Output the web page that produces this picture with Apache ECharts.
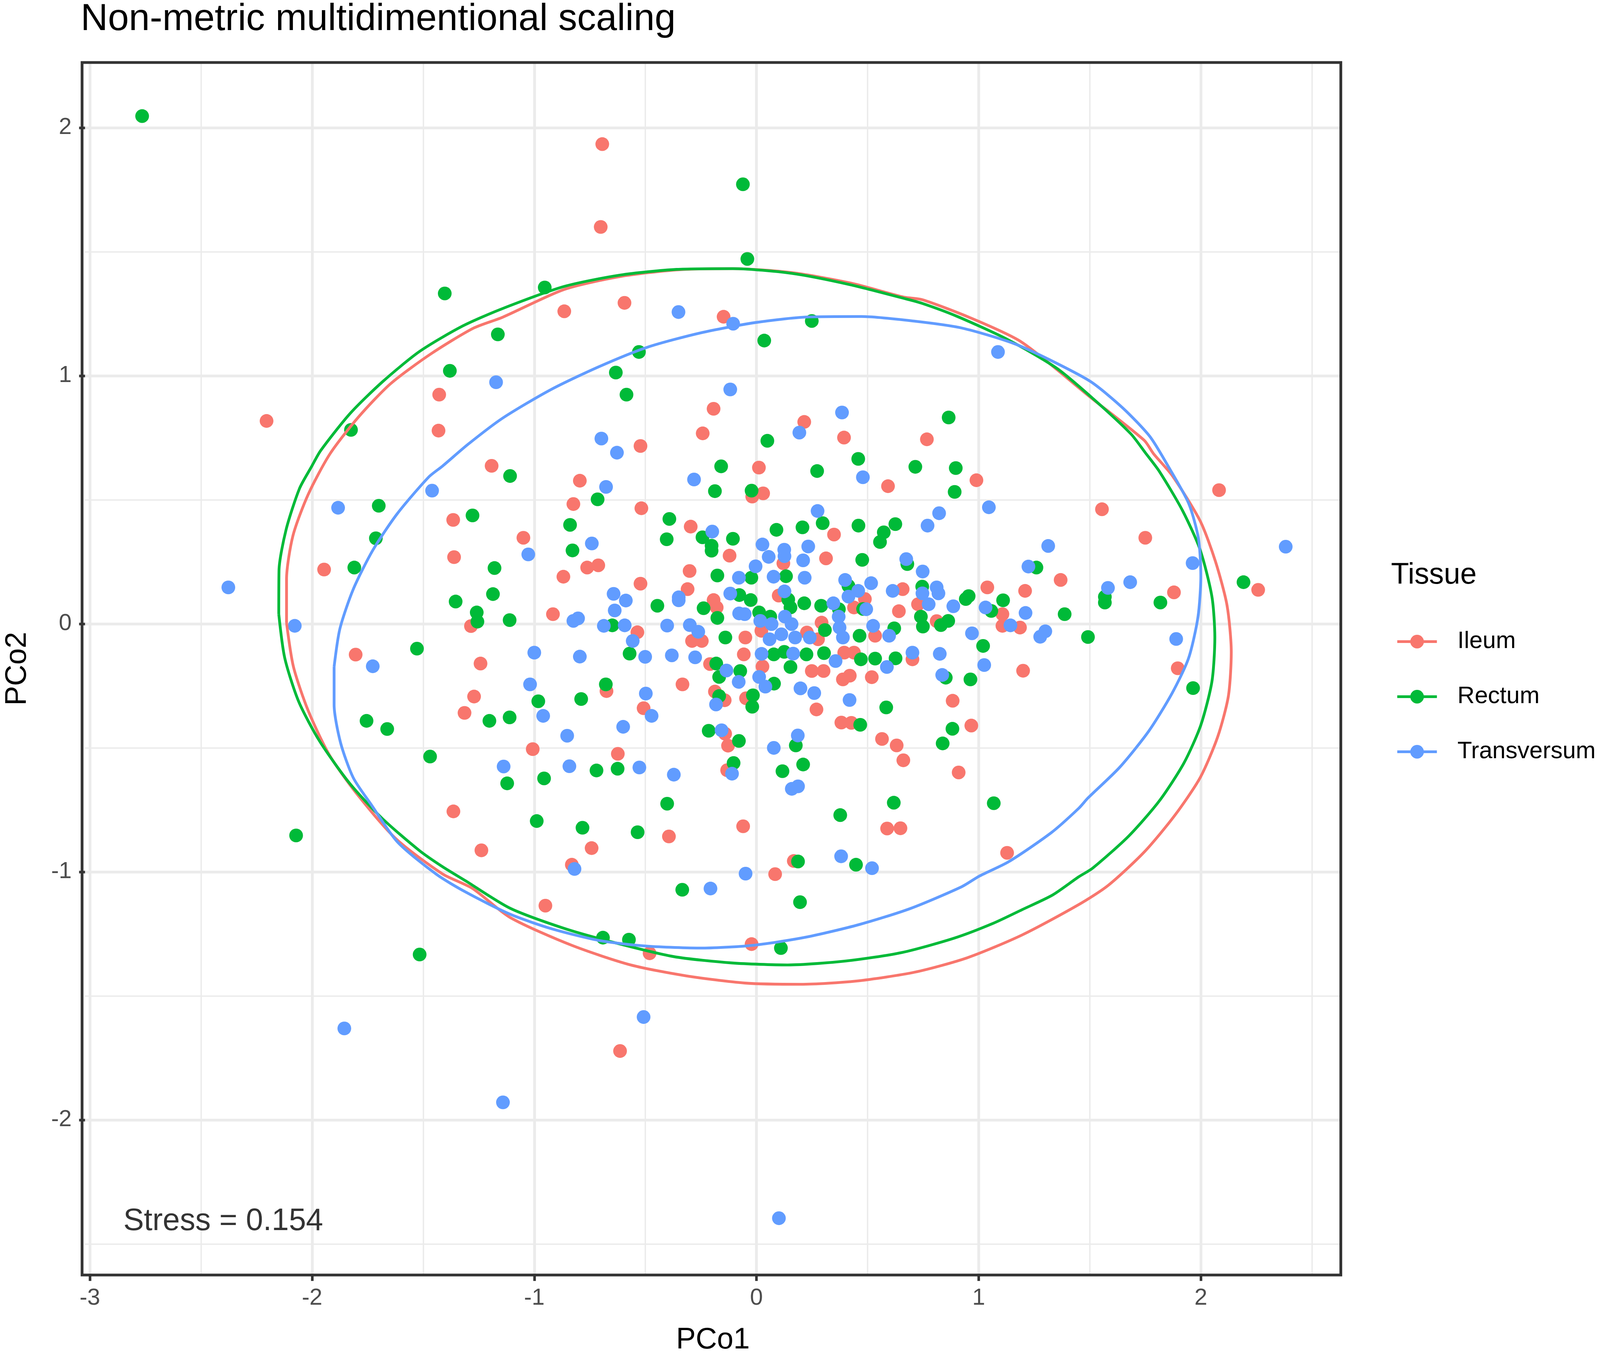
<!DOCTYPE html>
<html lang="en">
<head>
    <meta charset="UTF-8">
    <script type="text/javascript" src="https://cdn.jsdelivr.net/npm/echarts@6.0.0/dist/echarts.min.js"></script>
    <style>
        html, body {
            margin: 0;
            width: 100%;
            height: 100%;
            overflow: hidden;
            background: #fff;
        }
        #viewport {
            position: absolute;
            left: 0px;
            top: 0px;
            right: 0px;
            bottom: 0px;
        }
    </style>
</head>
<body>
<div id="viewport"></div>
<script>
    // NMDS coordinates, one array per tissue
    var ileum = [
        [-2.205, 0.818], [-0.694, 1.934], [-0.701, 1.600], [-0.865, 1.260], [-0.594, 1.294], [-0.148, 1.238],
        [-1.428, 0.924], [-1.431, 0.779], [-0.522, 0.717], [-1.192, 0.637], [-0.795, 0.577], [-0.824, 0.483],
        [-0.518, 0.466], [-1.365, 0.419], [-1.049, 0.347], [-1.361, 0.269], [-0.762, 0.227], [-0.712, 0.236],
        [-0.869, 0.190], [-0.522, 0.162], [-1.285, -0.009], [-0.916, 0.039], [-0.536, -0.034],
        [-0.193, 0.867], [-0.242, 0.768], [-0.019, 0.513], [0.030, 0.526], [0.011, 0.630], [0.215, 0.814],
        [0.394, 0.751], [-0.296, 0.392], [-0.121, 0.275], [0.349, 0.360], [0.121, 0.244], [0.313, 0.264],
        [-0.301, 0.213], [-0.310, 0.140], [-0.193, 0.096], [-0.179, 0.066], [0.100, 0.114], [0.293, 0.005],
        [-0.290, -0.069], [-0.246, -0.069], [-0.050, -0.055], [0.022, -0.028], [0.227, -0.035], [0.277, -0.062],
        [0.439, 0.066],
        [0.767, 0.744], [0.592, 0.555], [0.990, 0.579], [1.369, 0.177], [0.658, 0.140], [0.727, 0.079],
        [0.641, 0.051], [1.039, 0.147], [1.209, 0.133], [1.107, 0.039], [1.107, -0.008], [1.186, -0.015],
        [0.488, 0.100], [0.534, -0.048], [0.811, 0.011],
        [-1.242, -0.160], [-1.271, -0.293], [-1.314, -0.359], [-0.675, -0.271], [-0.508, -0.340], [-1.007, -0.505],
        [-0.624, -0.524], [-1.364, -0.756], [-1.238, -0.913], [-0.742, -0.904], [-0.831, -0.971], [-0.950, -1.136],
        [-0.057, -0.123], [-0.209, -0.162], [-0.333, -0.244], [-0.187, -0.273], [-0.143, -0.308], [-0.047, -0.300],
        [0.027, -0.172], [0.249, -0.190], [0.302, -0.190], [0.395, -0.116], [0.439, -0.116], [0.389, -0.224],
        [0.420, -0.209], [0.270, -0.345], [0.382, -0.398], [0.427, -0.399], [-0.141, -0.443], [-0.128, -0.491],
        [-0.132, -0.590], [-0.060, -0.816], [-0.394, -0.857], [0.168, -0.956], [0.084, -1.009],
        [0.702, -0.143], [0.519, -0.215], [1.200, -0.189], [0.883, -0.310], [0.967, -0.410], [0.565, -0.464],
        [0.631, -0.490], [0.661, -0.550], [0.910, -0.599], [0.588, -0.825], [0.648, -0.824], [1.128, -0.923],
        [-1.946, 0.219], [-1.804, -0.124], [-0.481, -1.328], [-0.614, -1.722], [-0.022, -1.291],
        [1.555, 0.462], [1.750, 0.347], [1.879, 0.127], [2.082, 0.539], [2.258, 0.137], [1.896, -0.179]
    ];

    var rectum = [
        [-2.765, 2.047], [-1.403, 1.332], [-1.164, 1.167], [-1.380, 1.020], [-1.825, 0.782],
        [-0.061, 1.772], [-0.041, 1.471], [-0.953, 1.356], [0.035, 1.142], [0.249, 1.221], [-0.529, 1.096],
        [-0.633, 1.013], [-0.585, 0.924],
        [-1.109, 0.596], [-0.715, 0.502], [-1.278, 0.437], [-0.839, 0.399], [-0.828, 0.296], [-1.179, 0.225],
        [-1.354, 0.090], [-1.186, 0.120], [-1.259, 0.046], [-1.256, 0.009], [-1.111, 0.015], [-0.649, -0.006],
        [-0.159, 0.635], [-0.187, 0.535], [-0.022, 0.537], [0.049, 0.738], [0.458, 0.665], [0.273, 0.616],
        [-0.392, 0.423], [-0.404, 0.341], [-0.243, 0.349], [-0.202, 0.315], [-0.202, 0.295], [-0.106, 0.343],
        [0.090, 0.379], [0.207, 0.389], [0.298, 0.406], [0.459, 0.396], [0.476, 0.258], [-0.176, 0.195],
        [-0.023, 0.186], [0.133, 0.192], [-0.077, 0.116], [-0.026, 0.096], [0.143, 0.098], [0.153, 0.066],
        [0.215, 0.083], [0.291, 0.073], [0.414, 0.153], [0.371, 0.059], [-0.446, 0.073], [-0.238, 0.063],
        [-0.176, 0.024], [0.012, 0.046], [0.062, 0.029], [0.308, -0.025], [-0.140, -0.055], [0.464, -0.048],
        [0.480, 0.060],
        [0.865, 0.832], [0.715, 0.633], [0.897, 0.628], [0.892, 0.532], [0.625, 0.402], [0.573, 0.369],
        [0.556, 0.330], [0.679, 0.241], [0.746, 0.150], [0.942, 0.100], [0.955, 0.112], [1.260, 0.227],
        [1.110, 0.095], [1.057, 0.052], [1.387, 0.039], [1.020, -0.089], [0.620, -0.018], [0.740, 0.029],
        [0.749, -0.011], [0.830, -0.005], [0.863, 0.012],
        [-0.571, -0.120], [-1.202, -0.391], [-1.111, -0.377], [-0.982, -0.312], [-0.789, -0.303], [-0.678, -0.244],
        [-1.469, -0.535], [-1.122, -0.643], [-0.956, -0.623], [-0.720, -0.591], [-0.625, -0.584], [-0.989, -0.795],
        [-0.783, -0.822], [-0.535, -0.840],
        [-0.181, -0.160], [-0.168, -0.214], [-0.073, -0.190], [-0.168, -0.291], [-0.016, -0.288], [-0.019, -0.334],
        [0.078, -0.123], [0.125, -0.113], [0.225, -0.123], [0.304, -0.118], [0.079, -0.241], [0.153, -0.174],
        [0.470, -0.143], [0.467, -0.407], [-0.215, -0.431], [-0.079, -0.472], [0.177, -0.490], [-0.103, -0.561],
        [0.117, -0.594], [0.210, -0.567], [-0.402, -0.725], [0.377, -0.771], [0.448, -0.971], [0.187, -0.958],
        [-0.334, -1.072], [0.196, -1.122],
        [0.534, -0.140], [0.626, -0.139], [0.852, -0.217], [0.963, -0.224], [0.584, -0.337], [0.882, -0.423],
        [0.838, -0.482], [0.618, -0.721], [1.068, -0.723],
        [-1.700, 0.476], [-1.713, 0.345], [-1.810, 0.227], [-1.755, -0.391], [-1.662, -0.424], [-1.528, -0.100],
        [-2.072, -0.853], [-1.516, -1.333], [-0.691, -1.265], [-0.574, -1.273], [0.110, -1.307],
        [1.568, 0.109], [1.568, 0.086], [1.492, -0.053], [1.818, 0.086], [2.192, 0.168], [1.965, -0.259]
    ];

    var transversum = [
        [-1.172, 0.974], [-0.351, 1.257], [-0.105, 1.210], [-0.118, 0.945], [1.087, 1.096],
        [-0.698, 0.747], [-0.628, 0.690], [-1.460, 0.537], [-0.677, 0.552], [-1.027, 0.280], [-0.741, 0.324],
        [-0.824, 0.012], [-0.803, 0.022], [-0.643, 0.121], [-0.588, 0.094], [-0.638, 0.054], [-0.687, -0.008],
        [-0.593, -0.006], [-0.557, -0.069],
        [-0.281, 0.582], [0.193, 0.771], [0.385, 0.852], [0.479, 0.591], [-0.199, 0.372], [0.275, 0.455],
        [0.027, 0.320], [0.055, 0.270], [0.125, 0.299], [0.126, 0.273], [0.233, 0.312], [0.210, 0.256],
        [-0.004, 0.232], [-0.079, 0.186], [0.077, 0.190], [0.217, 0.186], [-0.350, 0.095], [-0.350, 0.107],
        [-0.118, 0.122], [0.126, 0.131], [0.399, 0.177], [0.414, 0.110], [0.458, 0.133], [0.346, 0.083],
        [-0.078, 0.042], [-0.053, 0.039], [0.017, 0.012], [0.068, -0.001], [0.128, 0.029], [0.158, -0.001],
        [0.370, 0.029], [0.374, -0.015], [-0.402, -0.007], [-0.300, -0.005], [-0.262, -0.032], [0.059, -0.062],
        [0.112, -0.042], [0.174, -0.055], [0.240, -0.055], [0.389, -0.055],
        [1.046, 0.470], [0.822, 0.446], [0.770, 0.396], [0.674, 0.261], [0.748, 0.211], [1.313, 0.314],
        [1.224, 0.231], [0.516, 0.164], [0.613, 0.133], [0.747, 0.123], [0.811, 0.147], [0.819, 0.123],
        [0.775, 0.079], [0.886, 0.071], [1.031, 0.066], [1.143, -0.006], [1.211, 0.044], [1.277, -0.052],
        [1.300, -0.030], [0.970, -0.038], [0.494, 0.059], [0.525, -0.008], [0.597, -0.048],
        [-1.000, -0.116], [-0.795, -0.132], [-0.501, -0.133], [-1.019, -0.244], [-0.960, -0.371], [-0.498, -0.281],
        [-0.600, -0.415], [-0.852, -0.451], [-1.138, -0.575], [-0.842, -0.574], [-0.527, -0.579], [-0.819, -0.988],
        [-0.381, -0.127], [-0.276, -0.135], [-0.135, -0.188], [-0.080, -0.234], [-0.472, -0.371], [-0.182, -0.325],
        [0.023, -0.121], [0.165, -0.120], [0.012, -0.214], [0.040, -0.253], [0.356, -0.150], [0.198, -0.260],
        [0.260, -0.279], [0.419, -0.307], [-0.157, -0.429], [0.078, -0.500], [0.186, -0.450], [-0.110, -0.604],
        [0.159, -0.665], [0.187, -0.655], [-0.372, -0.608], [0.381, -0.937], [-0.049, -1.007], [-0.207, -1.067],
        [0.702, -0.116], [0.587, -0.174], [0.825, -0.121], [0.836, -0.206], [1.025, -0.166], [0.520, -0.985],
        [-1.883, 0.468], [-2.377, 0.147], [-2.078, -0.008], [-1.727, -0.171], [-1.855, -1.631], [-0.508, -1.585],
        [-1.141, -1.929], [0.101, -2.396], [1.682, 0.168], [1.582, 0.145], [1.963, 0.245], [2.382, 0.311],
        [1.889, -0.061]
    ];

    // stat_ellipse outlines
    var ileumEllipse = [
        [-2.115, 0.004], [-2.115, 0.180], [-2.086, 0.356], [-2.018, 0.521], [-1.919, 0.686], [-1.791, 0.834],
        [-1.647, 0.968], [-1.466, 1.088], [-1.274, 1.192], [-1.143, 1.236], [-0.866, 1.348], [-0.614, 1.400],
        [-0.360, 1.427], [-0.107, 1.432], [0.158, 1.416], [0.423, 1.374], [0.664, 1.317], [0.746, 1.307],
        [0.962, 1.234], [1.193, 1.136], [1.505, 0.912], [1.745, 0.740], [1.787, 0.686], [1.871, 0.598],
        [1.997, 0.415], [2.066, 0.251], [2.118, 0.074], [2.137, -0.114], [2.124, -0.291], [2.076, -0.455],
        [1.997, -0.620], [1.882, -0.773], [1.745, -0.920], [1.582, -1.055], [1.450, -1.132], [1.196, -1.254],
        [0.949, -1.346], [0.713, -1.404], [0.449, -1.440], [0.199, -1.453], [-0.051, -1.448], [-0.316, -1.419],
        [-0.566, -1.375], [-0.831, -1.296], [-1.110, -1.183], [-1.279, -1.066], [-1.413, -1.008], [-1.622, -0.867],
        [-1.804, -0.679], [-1.924, -0.526], [-2.018, -0.349], [-2.084, -0.173], [-2.115, 0.004]
    ];
    var rectumEllipse = [
        [-2.150, 0.039], [-2.149, 0.215], [-2.117, 0.380], [-2.057, 0.545], [-2.003, 0.633], [-1.961, 0.699],
        [-1.828, 0.849], [-1.683, 0.976], [-1.515, 1.099], [-1.322, 1.201], [-1.143, 1.271], [-0.866, 1.360],
        [-0.614, 1.406], [-0.360, 1.429], [-0.107, 1.432], [0.158, 1.413], [0.423, 1.367], [0.664, 1.312],
        [0.746, 1.292], [0.902, 1.240], [1.131, 1.146], [1.349, 1.032], [1.516, 0.907], [1.685, 0.766],
        [1.750, 0.690], [1.813, 0.615], [1.918, 0.456], [1.997, 0.298], [2.050, 0.109], [2.063, -0.055],
        [2.050, -0.232], [2.000, -0.408], [1.924, -0.561], [1.813, -0.714], [1.676, -0.855], [1.513, -0.985],
        [1.450, -1.020], [1.333, -1.093], [1.196, -1.152], [1.066, -1.207], [0.890, -1.267], [0.654, -1.325],
        [0.404, -1.359], [0.140, -1.375], [-0.110, -1.367], [-0.375, -1.341], [-0.669, -1.278], [-0.875, -1.225],
        [-1.110, -1.146], [-1.311, -1.035], [-1.413, -0.979], [-1.517, -0.914], [-1.684, -0.785], [-1.830, -0.644],
        [-1.966, -0.473], [-2.060, -0.314], [-2.123, -0.138], [-2.150, 0.039]
    ];
    var transversumEllipse = [
        [-1.901, -0.173], [-1.875, -0.020], [-1.815, 0.139], [-1.726, 0.298], [-1.616, 0.445], [-1.475, 0.592],
        [-1.413, 0.636], [-1.298, 0.724], [-1.143, 0.829], [-0.926, 0.944], [-0.711, 1.036], [-0.492, 1.115],
        [-0.252, 1.173], [-0.010, 1.214], [0.229, 1.237], [0.472, 1.239], [0.713, 1.220], [0.927, 1.192],
        [1.156, 1.131], [1.323, 1.063], [1.505, 0.976], [1.649, 0.870], [1.770, 0.756], [1.850, 0.640],
        [1.945, 0.486], [1.989, 0.345], [2.000, 0.192], [1.987, 0.027], [1.945, -0.138],
        [1.871, -0.279], [1.766, -0.432], [1.634, -0.579], [1.492, -0.702], [1.450, -0.744], [1.328, -0.841],
        [1.135, -0.959], [1.003, -1.017], [0.923, -1.060], [0.691, -1.148], [0.463, -1.212], [0.228, -1.262],
        [-0.007, -1.295], [-0.243, -1.307], [-0.493, -1.299], [-0.699, -1.278], [-0.919, -1.230], [-1.110, -1.170],
        [-1.311, -1.080], [-1.440, -1.010], [-1.616, -0.879], [-1.736, -0.726], [-1.815, -0.620], [-1.872, -0.479],
        [-1.901, -0.326], [-1.901, -0.173]
    ];

    var groups = ['Ileum', 'Rectum', 'Transversum'];
    var groupColors = ['#F8766D', '#00BA38', '#619CFF'];
    var xTicks = [-3, -2, -1, 0, 1, 2];
    var yTicks = [-2, -1, 0, 1, 2];
    var xRange = [-3.022, 2.630];
    var yRange = [-2.625, 2.263];
    var stressPos = [-2.4, -2.41];
    var stressText = 'Stress = 0.154';

    var pointSets = [ileum, rectum, transversum];
    var ellipseSets = [ileumEllipse, rectumEllipse, transversumEllipse];

    var FONT = 'Liberation Sans';
    var myChart = echarts.init(document.getElementById('viewport'));

    // layout is laid out on a 4562x3479 canvas and scaled to whatever the window really is
    var REF_W = 4562, REF_H = 3479;
    var sx = myChart.getWidth() / REF_W;
    var sy = myChart.getHeight() / REF_H;
    var sf = sx;                 // text follows the horizontal scale
    var sm = (sx + sy) / 2;      // marks and strokes
    var plot = {left: 234, top: 160, right: 3823, bottom: 3264};

    function valueAxis(range, ticks, extra) {
        var ax = {
            type: 'value',
            min: range[0],
            max: range[1],
            minInterval: 1,
            maxInterval: 1,
            axisLine: {show: false, onZero: false},
            axisTick: {
                show: true, inside: false, length: 16 * sm, customValues: ticks,
                lineStyle: {color: '#333333', width: 7 * sm}
            },
            splitLine: {show: true, lineStyle: {color: '#EBEBEB', width: 7.5 * sm}},
            minorTick: {show: false, splitNumber: 2},
            minorSplitLine: {show: true, lineStyle: {color: '#EBEBEB', width: 3.75 * sm}},
            nameLocation: 'middle',
            nameTextStyle: {color: '#000', fontSize: 84 * sf, fontFamily: FONT}
        };
        for (var k in extra) ax[k] = extra[k];
        return ax;
    }

    var series = [];
    // ellipse paths first so the legend picks up the line+point key
    groups.forEach(function (g, i) {
        series.push({
            name: g,
            type: 'line',
            data: ellipseSets[i],
            symbol: 'circle',
            symbolSize: 37 * sm,
            showSymbol: false,
            smooth: 0.25,
            z: 3,
            itemStyle: {color: groupColors[i]},
            lineStyle: {color: groupColors[i], width: 7.5 * sm}
        });
    });
    groups.forEach(function (g, i) {
        series.push({
            name: g,
            type: 'scatter',
            data: pointSets[i],
            symbol: 'circle',
            symbolSize: 37 * sm,
            z: 2,
            itemStyle: {color: groupColors[i], opacity: 1}
        });
    });
    series.push({
        type: 'scatter',
        data: [stressPos],
        symbolSize: 2,
        z: 4,
        itemStyle: {color: 'transparent'},
        label: {
            show: true, position: 'inside', formatter: stressText,
            color: '#000', fontSize: 88 * sf, fontFamily: FONT
        }
    });

    var option = {
        animation: false,
        backgroundColor: '#fff',
        title: [{
            text: 'Non-metric multidimentional scaling',
            left: 230 * sx, top: 2 * sy, padding: 0,
            textStyle: {color: '#000', fontSize: 107.5 * sf, fontWeight: 'normal', fontFamily: FONT}
        }, {
            text: 'Tissue',
            left: 3966 * sx, top: 1436 * sy, padding: 0,
            textStyle: {color: '#000', fontSize: 84 * sf, fontWeight: 'normal', fontFamily: FONT}
        }],
        legend: {
            data: groups,
            orient: 'vertical',
            left: 3980 * sx, top: 1612 * sy,
            padding: 0,
            itemWidth: 113 * sx, itemHeight: 46 * sm, itemGap: 80 * sy,
            lineStyle: {width: 7.5 * sm},
            textStyle: {
                color: '#000', fontSize: 68 * sf, fontFamily: FONT,
                lineHeight: 46 * sm, padding: [0, 0, 0, 53 * sx]
            }
        },
        grid: {
            left: plot.left * sx, top: plot.top * sy,
            right: (REF_W - plot.right) * sx, bottom: (REF_H - plot.bottom) * sy,
            show: false
        },
        xAxis: valueAxis(xRange, xTicks, {
            name: 'PCo1', nameGap: 130 * sy,
            axisLabel: {customValues: xTicks, color: '#4D4D4D', fontSize: 66 * sf, fontFamily: FONT, margin: 30 * sy}
        }),
        yAxis: valueAxis(yRange, yTicks, {
            name: 'PCo2', nameGap: 150 * sx,
            axisLabel: {customValues: yTicks, color: '#4D4D4D', fontSize: 66 * sf, fontFamily: FONT, margin: 38 * sx}
        }),
        graphic: [{
            type: 'rect',
            z: 100,
            silent: true,
            shape: {
                x: plot.left * sx, y: plot.top * sy,
                width: (plot.right - plot.left) * sx, height: (plot.bottom - plot.top) * sy
            },
            style: {fill: 'none', stroke: '#333333', lineWidth: 7.5 * sm}
        }],
        series: series
    };

    myChart.setOption(option);
</script>
</body>
</html>
